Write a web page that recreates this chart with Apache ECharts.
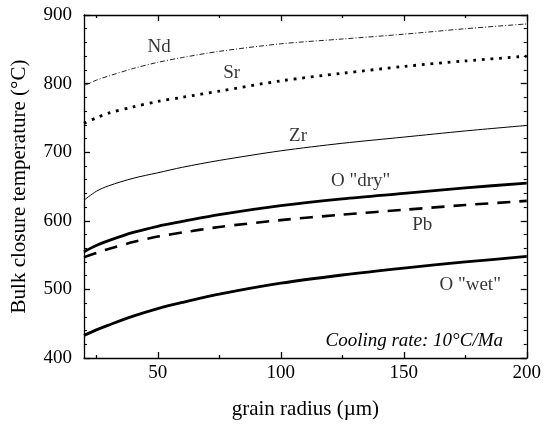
<!DOCTYPE html>
<html>
<head>
<meta charset="utf-8">
<script src="https://cdn.jsdelivr.net/npm/echarts@6/dist/echarts.min.js"></script>
<style>
  html, body { margin: 0; padding: 0; background: #fff; }
  #chart { width: 544px; height: 425px; }
</style>
</head>
<body>
<div id="chart"></div>
<script>
// Grain radius (µm) at which closure temperatures were evaluated
const radius = [20, 25, 30, 40, 50, 60, 75, 100, 125, 150, 175, 200];

// Bulk closure temperatures (°C), cooling rate 10 °C/Ma
const nd   = [797, 805, 811, 822, 831, 838, 847, 858, 865, 872, 880, 887];
const sr   = [742, 750, 757, 766, 774, 780, 789, 804, 815, 825, 833, 840];
const zr   = [630, 643, 651, 662, 670, 678, 688, 702, 713, 722, 731, 739];
const oDry = [555, 564, 571, 583, 592, 599, 609, 622, 632, 640, 648, 655];
const pb   = [547, 553, 559, 569, 577, 583, 591, 601, 609, 616, 623, 629];
const oWet = [433, 441, 448, 461, 472, 481, 493, 509, 521, 531, 540, 548];

// Curve names and where each name sits (radius, temperature)
const curveNames = ['Nd', 'Sr', 'Zr', 'O "dry"', 'Pb', 'O "wet"'];
const nameAtRadius = [50.5, 80, 107, 132.5, 157.5, 177];
const nameAtTemp = [854, 815, 723, 658, 594, 506];

// Axis tick values
const xMajor = [50, 100, 150, 200];
const xMinor = [25, 75, 125, 175];

const serif = '"Liberation Serif", "DejaVu Serif", serif';

const pairs = (ys) => radius.map((r, i) => [r, ys[i]]);

function curve(name, ys, width, type, color) {
  return {
    name: name,
    type: 'line',
    data: pairs(ys),
    smooth: 0.3,
    showSymbol: false,
    symbol: 'none',
    silent: true,
    lineStyle: { color: color || '#000', width: width, type: type, cap: 'butt' },
    z: 3
  };
}

function xAxisDef(pos, ticks, len, withLine, withLabel) {
  return {
    type: 'value',
    position: pos,
    min: 20,
    max: 200,
    axisLine: { show: withLine, lineStyle: { color: '#000', width: 1.3 } },
    axisTick: { show: true, inside: true, length: len, customValues: ticks,
                lineStyle: { color: '#000', width: 1.3 } },
    axisLabel: withLabel
      ? { show: true, customValues: ticks, margin: 6, color: '#000',
          fontFamily: serif, fontSize: 19 }
      : { show: false },
    splitLine: { show: false },
    name: withLabel ? 'grain radius (\u00b5m)' : '',
    nameLocation: 'middle',
    nameGap: 41,
    nameTextStyle: { color: '#000', fontFamily: serif, fontSize: 21 }
  };
}

function yAxisDef(pos, withLabel) {
  return {
    type: 'value',
    position: pos,
    min: 400,
    max: 900,
    interval: 100,
    axisLine: { show: true, lineStyle: { color: '#000', width: 1.3 } },
    axisTick: { show: true, inside: true, length: 6, lineStyle: { color: '#000', width: 1.3 } },
    minorTick: { show: true, splitNumber: 5, length: 3, lineStyle: { color: '#000', width: 1.1 } },
    axisLabel: withLabel
      ? { show: true, margin: 12, color: '#000', fontFamily: serif, fontSize: 19 }
      : { show: false },
    splitLine: { show: false },
    minorSplitLine: { show: false },
    name: withLabel ? 'Bulk closure temperature (\u00b0C)' : '',
    nameLocation: 'middle',
    nameGap: 54,
    nameTextStyle: { color: '#000', fontFamily: serif, fontSize: 21 }
  };
}

const chart = echarts.init(document.getElementById('chart'), null, { renderer: 'canvas' });

chart.setOption({
  animation: false,
  backgroundColor: '#fff',
  grid: { left: 84, right: 16, top: 15, bottom: 65.5, containLabel: false },
  xAxis: [
    xAxisDef('bottom', xMajor, 6, true, true),
    xAxisDef('bottom', xMinor, 3, false, false),
    xAxisDef('top', xMajor, 6, true, false),
    xAxisDef('top', xMinor, 3, false, false)
  ],
  yAxis: [yAxisDef('left', true), yAxisDef('right', false)],
  graphic: [{
    type: 'text',
    right: 41,
    top: 331,
    style: {
      text: 'Cooling rate: 10\u00b0C/Ma',
      fill: '#000',
      font: 'italic 19px ' + serif
    }
  }],
  series: [
    curve('Nd', nd, 1, [5, 2, 1, 2], '#222'),
    curve('Sr', sr, 2.8, [2.8, 5.8]),
    curve('Zr', zr, 1),
    curve('O "dry"', oDry, 2.8, 'solid'),
    curve('Pb', pb, 2.6, [13, 9]),
    curve('O "wet"', oWet, 2.8, 'solid'),
    {
      type: 'scatter',
      silent: true,
      symbolSize: 0,
      data: curveNames.map((n, i) => ({ name: n, value: [nameAtRadius[i], nameAtTemp[i]] })),
      label: {
        show: true,
        position: 'inside',
        formatter: (p) => p.name,
        color: '#000',
        fontFamily: serif,
        fontSize: 19
      },
      z: 4
    }
  ]
});
</script>
</body>
</html>
